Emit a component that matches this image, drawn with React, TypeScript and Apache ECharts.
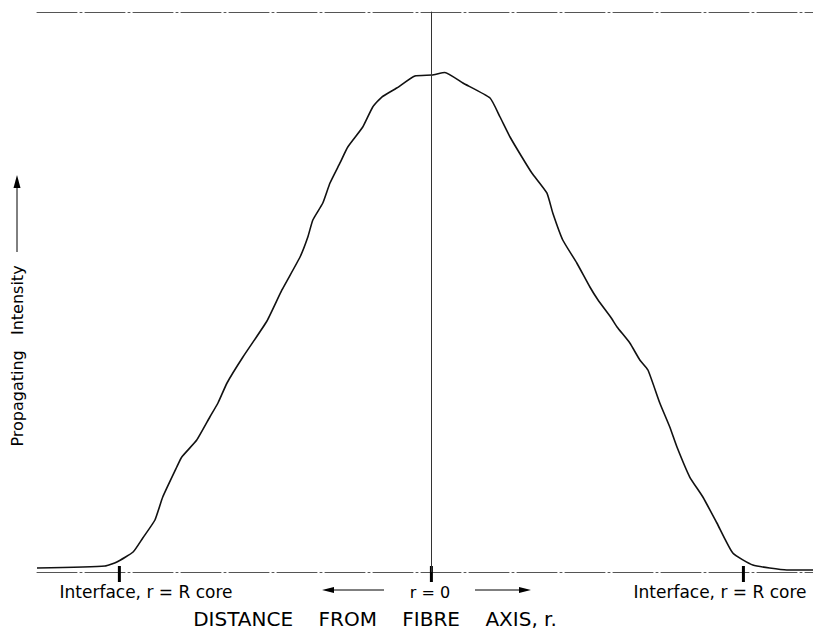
import React, { useEffect, useRef } from "react";
import * as echarts from "echarts";

// Normalised radial distance r / R_core (0 = fibre axis, ±1 = core interface)
const distance = [
  -1.264, -1.046, -1.008, -0.956, -0.925, -0.886, -0.861, -0.816, -0.8, -0.752,
  -0.71, -0.684, -0.655, -0.604, -0.527, -0.479, -0.421, -0.396, -0.38, -0.348,
  -0.325, -0.293, -0.268, -0.22, -0.188, -0.159, -0.111, -0.053, 0.002, 0.043,
  0.101, 0.188, 0.22, 0.252, 0.29, 0.322, 0.37, 0.389, 0.421, 0.466,
  0.508, 0.534, 0.576, 0.595, 0.636, 0.668, 0.694, 0.732, 0.764, 0.787,
  0.828, 0.87, 0.915, 0.966, 1.03, 1.139, 1.223,
];
// Propagating intensity (arbitrary units, 100 = top of frame)
const intensity = [
  0.71, 1.07, 1.79, 3.57, 6.07, 9.29, 13.39, 18.75, 20.54, 23.57,
  27.68, 30.18, 33.75, 38.39, 44.82, 50.36, 56.25, 59.82, 62.86, 65.89,
  69.46, 73.04, 75.89, 79.46, 83.04, 84.82, 86.43, 88.57, 88.75, 89.2,
  87.32, 84.64, 81.25, 77.68, 74.11, 71.25, 67.68, 64.11, 59.29, 55.18,
  50.89, 48.57, 45.4, 43.75, 40.89, 37.86, 36.07, 30.18, 25.89, 22.32,
  16.96, 13.39, 8.75, 3.39, 1.25, 0.36, 0.36,
];
// Marked positions on the distance axis: interface, axis, interface
const markedPositions = [-1, 0, 1];

const xMin = -1.264;
const xMax = 1.223;

const FONT = "DejaVu Sans, sans-serif";

export default function App() {
  const ref = useRef<HTMLDivElement>(null);

  useEffect(() => {
    if (!ref.current) return;
    const chart = echarts.init(ref.current, null, { renderer: "svg" });
    const curve = distance.map((d, i) => [d, intensity[i]]);

    chart.setOption({
      animation: false,
      backgroundColor: "#ffffff",
      grid: { left: 37, right: 0, top: 12, bottom: 58 },
      xAxis: [
        {
          type: "value",
          min: xMin,
          max: xMax,
          position: "bottom",
          axisLine: { show: true, lineStyle: { color: "#555", width: 1, type: [40, 3, 2, 3] } },
          axisTick: { show: false },
          axisLabel: { show: false },
          splitLine: { show: false },
        },
        {
          type: "value",
          min: xMin,
          max: xMax,
          position: "top",
          axisLine: { show: true, lineStyle: { color: "#555", width: 1, type: [40, 3, 2, 3] } },
          axisTick: { show: false },
          axisLabel: { show: false },
          splitLine: { show: false },
        },
      ],
      yAxis: {
        type: "value",
        min: 0,
        max: 100,
        axisLine: { show: true, lineStyle: { color: "#555", width: 1 } },
        axisTick: { show: false },
        axisLabel: { show: false },
        splitLine: { show: false },
      },
      series: [
        {
          type: "line",
          data: curve,
          showSymbol: false,
          smooth: 0.15,
          lineStyle: { color: "#111", width: 1.6 },
          markLine: {
            silent: true,
            symbol: "none",
            label: { show: false },
            lineStyle: { color: "#333", width: 1, type: "solid" },
            data: [{ xAxis: 0 }],
          },
        },
        {
          type: "custom",
          silent: true,
          clip: false,
          data: markedPositions.map((v) => [v, 0]),
          encode: { x: 0, y: 1 },
          renderItem: (params: any, api: any) => {
            const p = api.coord([api.value(0), 0]);
            return {
              type: "line",
              shape: { x1: p[0], y1: p[1] - 6, x2: p[0], y2: p[1] + 10 },
              style: { stroke: "#000", lineWidth: 3 },
            };
          },
        },
      ],
      graphic: [
        {
          type: "text",
          x: 146,
          y: 592,
          style: {
            text: "Interface, r = R core",
            font: `17px ${FONT}`,
            fill: "#000",
            align: "center",
            verticalAlign: "middle",
          },
        },
        {
          type: "text",
          x: 720,
          y: 592,
          style: {
            text: "Interface, r = R core",
            font: `17px ${FONT}`,
            fill: "#000",
            align: "center",
            verticalAlign: "middle",
          },
        },
        {
          type: "text",
          x: 430,
          y: 592,
          style: {
            text: "r = 0",
            font: `16px ${FONT}`,
            fill: "#000",
            align: "center",
            verticalAlign: "middle",
          },
        },
        {
          type: "line",
          shape: { x1: 331, y1: 590, x2: 384, y2: 590 },
          style: { stroke: "#000", lineWidth: 1 },
        },
        {
          type: "polygon",
          shape: { points: [[322, 590], [334, 587], [334, 593]] },
          style: { fill: "#000" },
        },
        {
          type: "line",
          shape: { x1: 475, y1: 590, x2: 522, y2: 590 },
          style: { stroke: "#000", lineWidth: 1 },
        },
        {
          type: "polygon",
          shape: { points: [[531, 590], [519, 587], [519, 593]] },
          style: { fill: "#000" },
        },
        {
          type: "text",
          x: 375,
          y: 619,
          style: {
            text: "DISTANCE    FROM    FIBRE    AXIS, r.",
            font: `20px ${FONT}`,
            fill: "#000",
            align: "center",
            verticalAlign: "middle",
          },
        },
        {
          type: "text",
          x: 17,
          y: 356,
          rotation: Math.PI / 2,
          style: {
            text: "Propagating   Intensity",
            font: `16px ${FONT}`,
            fill: "#000",
            align: "center",
            verticalAlign: "middle",
          },
        },
        {
          type: "line",
          shape: { x1: 17, y1: 252, x2: 17, y2: 186 },
          style: { stroke: "#000", lineWidth: 1 },
        },
        {
          type: "polygon",
          shape: { points: [[17, 175], [13.5, 188], [20.5, 188]] },
          style: { fill: "#000" },
        },
      ],
    });

    return () => chart.dispose();
  }, []);

  return (
    <div
      ref={ref}
      style={{ position: "fixed", left: 0, top: 0, width: 813, height: 630, background: "#fff" }}
    />
  );
}
